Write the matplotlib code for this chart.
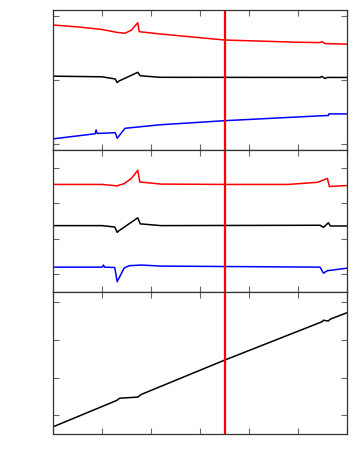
import numpy as np
import matplotlib
matplotlib.use("Agg")
import matplotlib.pyplot as plt

# Panel 1: three drifting traces
x_r1 = [0, 0.5, 1.0, 1.3, 1.47, 1.6, 1.73, 1.76, 2.18, 3.5, 5.0, 5.45, 5.49, 5.55, 6.0]
y_r1 = [0.86, 0.83, 0.79, 0.745, 0.73, 0.78, 0.895, 0.755, 0.72, 0.625, 0.59, 0.585, 0.60, 0.57, 0.56]
x_k1 = [0, 1.0, 1.27, 1.31, 1.35, 1.73, 1.78, 2.18, 5.45, 5.49, 5.55, 5.6, 6.0]
y_k1 = [0.06, 0.05, 0.016, -0.04, -0.015, 0.12, 0.067, 0.042, 0.04, 0.055, 0.023, 0.04, 0.04]
x_b1 = [0, 0.86, 0.88, 0.90, 1.0, 1.27, 1.31, 1.47, 2.18, 3.5, 5.5, 5.62, 5.63, 6.0]
y_b1 = [-0.92, -0.84, -0.78, -0.835, -0.833, -0.823, -0.91, -0.755, -0.70, -0.636, -0.558, -0.555, -0.53, -0.53]

# Panel 2: flat traces with events
x_r2 = [0, 1.0, 1.3, 1.45, 1.6, 1.73, 1.77, 2.2, 3.5, 4.8, 5.4, 5.6, 5.64, 6.0]
y_r2 = [2.53, 2.53, 2.49, 2.55, 2.70, 2.93, 2.60, 2.54, 2.53, 2.53, 2.59, 2.70, 2.47, 2.50]
x_k2 = [0, 1.0, 1.26, 1.31, 1.34, 1.73, 1.78, 2.2, 5.45, 5.52, 5.55, 5.62, 5.66, 6.0]
y_k2 = [1.37, 1.37, 1.33, 1.18, 1.22, 1.59, 1.42, 1.37, 1.38, 1.32, 1.36, 1.45, 1.36, 1.36]
x_b2 = [0, 1.0, 1.03, 1.05, 1.26, 1.31, 1.45, 1.55, 1.8, 2.2, 5.45, 5.52, 5.6, 6.0]
y_b2 = [0.20, 0.20, 0.26, 0.20, 0.19, -0.21, 0.17, 0.24, 0.26, 0.23, 0.20, 0.03, 0.10, 0.17]

# Panel 3: rising ramp
x_3 = [0, 1.28, 1.31, 1.36, 1.73, 1.80, 3.5, 5.49, 5.52, 5.62, 5.66, 6.0]
y_3 = [-0.31, 0.38, 0.40, 0.45, 0.48, 0.55, 1.46, 2.48, 2.52, 2.50, 2.55, 2.72]

x_marker = 3.5
x_ticks = [0, 1, 2, 3, 4, 5, 6]

fig = plt.figure(figsize=(3.54, 4.72), dpi=100)
left, right = 53 / 354, 347 / 354
tops = [10, 150, 292]
bots = [150, 292, 434]
axs = []
for t, b in zip(tops, bots):
    ax = fig.add_axes([left, 1 - b / 472, right - left, (b - t) / 472])
    axs.append(ax)

axs[0].plot(x_r1, y_r1, color='red', lw=1.1)
axs[0].plot(x_k1, y_k1, color='black', lw=1.1)
axs[0].plot(x_b1, y_b1, color='blue', lw=1.1)
axs[0].set_ylim(-1.094, 1.094)
axs[0].set_yticks([-1, 0, 1])

axs[1].plot(x_r2, y_r2, color='red', lw=1.1)
axs[1].plot(x_k2, y_k2, color='black', lw=1.1)
axs[1].plot(x_b2, y_b2, color='blue', lw=1.1)
axs[1].set_ylim(-0.5, 3.5)
axs[1].set_yticks([0, 1, 2, 3])

axs[2].plot(x_3, y_3, color='black', lw=1.1)
axs[2].set_ylim(-0.5, 3.27)
axs[2].set_yticks([0, 1, 2, 3])

for ax in axs:
    ax.axvline(x_marker, color='red', lw=1.6)
    ax.set_xlim(0, 6)
    ax.set_xticks(x_ticks)
    ax.tick_params(direction='in', length=4, width=0.8, color='0.4',
                   top=True, right=True, labelleft=False, labelbottom=False)
    for s in ax.spines.values():
        s.set_color('0.2')
        s.set_linewidth(0.9)

fig.savefig('out.png', dpi=100)
